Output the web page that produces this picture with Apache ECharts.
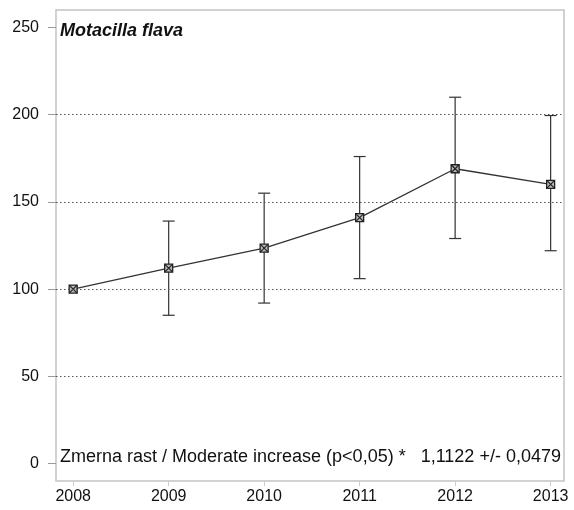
<!DOCTYPE html>
<html><head><meta charset="utf-8">
<script src="https://cdn.jsdelivr.net/npm/echarts@6/dist/echarts.min.js"></script>
<style>html,body{margin:0;padding:0;background:#fff}#c{width:574px;height:510px}</style>
</head><body><div id="c"></div>
<script>
const years = [2008, 2009, 2010, 2011, 2012, 2013];
const index = [100, 112, 123.5, 141, 169, 160];
const lower = [100, 85, 92, 106, 129, 122];
const upper = [100, 139, 155, 176, 210, 199.5];
const yTicks = [0, 50, 100, 150, 200, 250];
const gridLines = [50, 100, 150, 200];
const titleText = 'Motacilla flava';
const trendText = 'Zmerna rast / Moderate increase (p<0,05) *   1,1122 +/- 0,0479';

const chart = echarts.init(document.getElementById('c'), null, {renderer: 'canvas'});
const pts = years.map((y, i) => [y, index[i]]);
const bars = years.map((y, i) => [y, lower[i], upper[i], index[i]]);
const font = 'Liberation Sans, Arial, sans-serif';

chart.setOption({
  animation: false,
  backgroundColor: '#fff',
  title: [
    {text: titleText, left: 60, top: 22, padding: 0, textStyle: {fontFamily: font, fontSize: 18, fontWeight: 'bold', fontStyle: 'italic', color: '#111'}},
    {text: trendText, left: 60, top: 448, padding: 0, textStyle: {fontFamily: font, fontSize: 18, fontWeight: 'normal', color: '#111'}}
  ],
  grid: {left: 56, right: 10, top: 10, bottom: 29, show: true, borderColor: '#c4c4c4', borderWidth: 1.5, backgroundColor: '#fff'},
  xAxis: {
    type: 'value', min: 2007.82, max: 2013.14,
    axisLine: {show: false, onZero: false},
    splitLine: {show: false},
    axisTick: {show: true, customValues: years, length: 5, lineStyle: {color: '#ccc'}},
    axisLabel: {customValues: years, formatter: v => String(v), fontFamily: font, fontSize: 16, color: '#111', margin: 8}
  },
  yAxis: {
    type: 'value', min: -10, max: 260,
    axisLine: {show: false, onZero: false},
    splitLine: {show: false},
    axisTick: {show: true, customValues: yTicks, length: 8, lineStyle: {color: '#999'}},
    axisLabel: {customValues: yTicks, fontFamily: font, fontSize: 16, color: '#111', margin: 17}
  },
  series: [
    {
      type: 'line', data: pts, symbol: 'none', silent: true,
      lineStyle: {color: '#333', width: 1.3},
      markLine: {
        silent: true, symbol: 'none', label: {show: false},
        lineStyle: {type: [1.5, 2.5], color: '#555', width: 1},
        data: gridLines.map(v => ({yAxis: v}))
      },
      z: 2
    },
    {
      type: 'custom', data: bars, silent: true, z: 3,
      renderItem: function (params, api) {
        const x = api.value(0);
        const lo = api.coord([x, api.value(1)]);
        const hi = api.coord([x, api.value(2)]);
        const c = api.coord([x, api.value(3)]);
        const cap = 6, s = 4;
        const stroke = {stroke: '#333', lineWidth: 1.2, fill: null};
        const children = [];
        if (api.value(1) !== api.value(2)) {
          children.push({type: 'line', shape: {x1: lo[0], y1: lo[1], x2: hi[0], y2: hi[1]}, style: stroke});
          children.push({type: 'line', shape: {x1: lo[0] - cap, y1: lo[1], x2: lo[0] + cap, y2: lo[1]}, style: stroke});
          children.push({type: 'line', shape: {x1: hi[0] - cap, y1: hi[1], x2: hi[0] + cap, y2: hi[1]}, style: stroke});
        }
        children.push({type: 'rect', shape: {x: c[0] - s, y: c[1] - s, width: 2 * s, height: 2 * s}, style: {stroke: '#222', lineWidth: 1.3, fill: '#bbb'}});
        children.push({type: 'line', shape: {x1: c[0] - s, y1: c[1] - s, x2: c[0] + s, y2: c[1] + s}, style: {stroke: '#222', lineWidth: 1.2}});
        children.push({type: 'line', shape: {x1: c[0] - s, y1: c[1] + s, x2: c[0] + s, y2: c[1] - s}, style: {stroke: '#222', lineWidth: 1.2}});
        return {type: 'group', children: children};
      }
    }
  ]
});
</script>
</body></html>
